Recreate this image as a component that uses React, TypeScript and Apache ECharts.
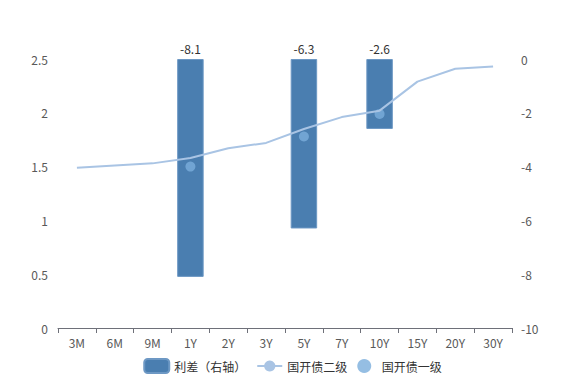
import React, { useEffect, useRef } from "react";
import * as echarts from "echarts";

const categories = ["3M", "6M", "9M", "1Y", "2Y", "3Y", "5Y", "7Y", "10Y", "15Y", "20Y", "30Y"];
const spread = [null, null, null, -8.1, null, null, -6.3, null, -2.6, null, null, null];
const level2 = [1.49, 1.51, 1.53, 1.58, 1.67, 1.72, 1.85, 1.96, 2.02, 2.29, 2.41, 2.43];
const level1 = [null, null, null, 1.5, null, null, 1.78, null, 1.99, null, null, null];

export default function App() {
  const ref = useRef<HTMLDivElement>(null);
  useEffect(() => {
    const chart = echarts.init(ref.current!, null, { renderer: "svg" });
    const font = "'Noto Sans CJK SC', 'Noto Sans', sans-serif";
    chart.setOption({
      animation: false,
      textStyle: { fontFamily: font },
      grid: { left: 50, right: 65, top: 51, bottom: 60 },
      legend: {
        bottom: 9,
        itemWidth: 25,
        itemHeight: 14,
        itemGap: 10,
        textStyle: { fontSize: 12, color: "#333", fontFamily: font },
        data: [
          { name: "利差（右轴）", icon: "roundRect" },
          { name: "国开债二级" },
          { name: "国开债一级", icon: "circle" },
        ],
      },
      xAxis: {
        type: "category",
        data: categories,
        axisLine: { lineStyle: { color: "#6e7079" } },
        axisTick: { show: true },
        axisLabel: { color: "#595959", fontSize: 12, margin: 8 },
      },
      yAxis: [
        {
          type: "value",
          min: 0,
          max: 2.5,
          interval: 0.5,
          splitLine: { show: false },
          axisLine: { show: false },
          axisLabel: { color: "#595959", fontSize: 12, margin: 10 },
        },
        {
          type: "value",
          min: -10,
          max: 0,
          interval: 2,
          splitLine: { show: false },
          axisLine: { show: false },
          axisLabel: { color: "#595959", fontSize: 12, margin: 9 },
        },
      ],
      series: [
        {
          name: "利差（右轴）",
          type: "bar",
          yAxisIndex: 1,
          data: spread,
          barWidth: "70%",
          itemStyle: { color: "#4a7eb0", borderColor: "#6d98c4", borderWidth: 1 },
          label: { show: true, position: "top", color: "#333", fontSize: 12 },
        },
        {
          name: "国开债二级",
          type: "line",
          data: level2,
          symbol: "circle",
          symbolSize: 8,
          showSymbol: false,
          itemStyle: { color: "#a9c4e4" },
          lineStyle: { color: "#a9c4e4", width: 2 },
        },
        {
          name: "国开债一级",
          type: "scatter",
          data: level1,
          symbolSize: 10,
          itemStyle: { color: "#7aaedc", opacity: 0.8 },
        },
      ],
    });
    return () => chart.dispose();
  }, []);
  return <div ref={ref} style={{ width: 569, height: 380 }} />;
}
